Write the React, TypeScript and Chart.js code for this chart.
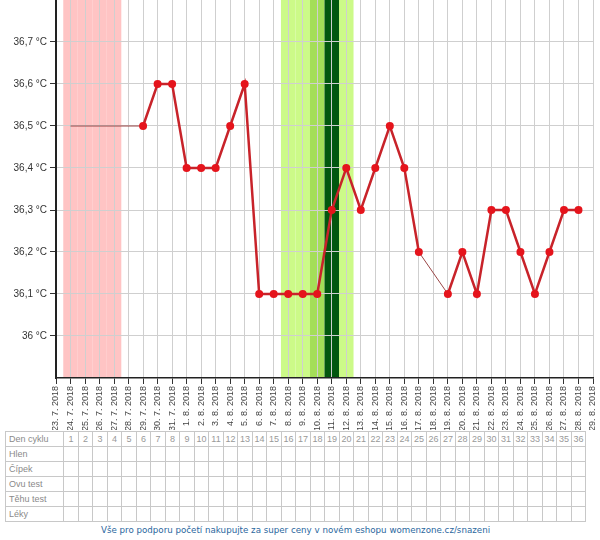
import React, { useEffect, useRef } from "react";
import { Chart, registerables } from "chart.js";

Chart.register(...registerables);

const dayLabels = [
  "23. 7. 2018", "24. 7. 2018", "25. 7. 2018", "26. 7. 2018", "27. 7. 2018",
  "28. 7. 2018", "29. 7. 2018", "30. 7. 2018", "31. 7. 2018", "1. 8. 2018",
  "2. 8. 2018", "3. 8. 2018", "4. 8. 2018", "5. 8. 2018", "6. 8. 2018",
  "7. 8. 2018", "8. 8. 2018", "9. 8. 2018", "10. 8. 2018", "11. 8. 2018",
  "12. 8. 2018", "13. 8. 2018", "14. 8. 2018", "15. 8. 2018", "16. 8. 2018",
  "17. 8. 2018", "18. 8. 2018", "19. 8. 2018", "20. 8. 2018", "21. 8. 2018",
  "22. 8. 2018", "23. 8. 2018", "24. 8. 2018", "25. 8. 2018", "26. 8. 2018",
  "27. 8. 2018", "28. 8. 2018", "29. 8. 2018",
];

const temperatures: (number | null)[] = [
  null, null, null, null, null, null, 36.5, 36.6, 36.6, 36.4,
  36.4, 36.4, 36.5, 36.6, 36.1, 36.1, 36.1, 36.1, 36.1, 36.3,
  36.4, 36.3, 36.4, 36.5, 36.4, 36.2, null, 36.1, 36.2, 36.1,
  36.3, 36.3, 36.2, 36.1, 36.2, 36.3, 36.3, null,
];

const yTickValues = [36.0, 36.1, 36.2, 36.3, 36.4, 36.5, 36.6, 36.7];

const cycleStartIndex = 1;
const menstruationDays = [1, 2, 3, 4];
const fertileDays = [16, 17, 20];
const highFertileDays = [18];
const ovulationDays = [19];

const cycleDayNumbers = [
  1, 2, 3, 4, 5, 6, 7, 8, 9, 10, 11, 12, 13, 14, 15, 16, 17, 18,
  19, 20, 21, 22, 23, 24, 25, 26, 27, 28, 29, 30, 31, 32, 33, 34, 35, 36,
];
const tableRowLabels = ["Hlen", "Čípek", "Ovu test", "Těhu test", "Léky"];
const footerText =
  "Vše pro podporu početí nakupujte za super ceny v novém eshopu womenzone.cz/snazeni";

const bandsPlugin = {
  id: "cycleBands",
  beforeDraw(chart: any) {
    const { ctx, chartArea, scales } = chart;
    const x = scales.x;
    const groups: [number[], string][] = [
      [menstruationDays, "#ffc4c4"],
      [fertileDays, "#ccfa88"],
      [highFertileDays, "#a4de58"],
      [ovulationDays, "#03570f"],
    ];
    ctx.save();
    for (const [days, color] of groups) {
      ctx.fillStyle = color;
      for (const d of days) {
        const l = x.getPixelForValue(d - 0.5);
        const r = x.getPixelForValue(d + 0.5);
        ctx.fillRect(l, chartArea.top, r - l, chartArea.bottom - chartArea.top);
      }
    }
    ctx.restore();
  },
};

function buildMainPoints() {
  return temperatures.map((t, i) => ({ x: i, y: t }));
}

function buildConnectorPoints() {
  const pts: { x: number; y: number | null }[] = [];
  const known = temperatures
    .map((t, i) => ({ x: i, y: t }))
    .filter((p) => p.y !== null) as { x: number; y: number }[];
  if (known.length) {
    pts.push({ x: cycleStartIndex, y: known[0].y });
    pts.push({ x: known[0].x, y: known[0].y });
    pts.push({ x: known[0].x + 0.5, y: null });
  }
  for (let k = 1; k < known.length; k++) {
    if (known[k].x - known[k - 1].x > 1) {
      pts.push({ x: known[k - 1].x, y: known[k - 1].y });
      pts.push({ x: known[k].x, y: known[k].y });
      pts.push({ x: known[k].x + 0.5, y: null });
    }
  }
  return pts;
}

function formatTemp(v: number) {
  const s = (Math.round(v * 10) / 10).toFixed(1);
  const t = s.endsWith(".0") ? s.slice(0, -2) : s.replace(".", ",");
  return t + " °C";
}

function TempChart() {
  const ref = useRef<HTMLCanvasElement | null>(null);
  useEffect(() => {
    if (!ref.current) return;
    const chart = new Chart(ref.current, {
      type: "line",
      data: {
        datasets: [
          {
            data: buildConnectorPoints() as any,
            borderColor: "#9a4646",
            borderWidth: 1,
            pointRadius: 0,
            spanGaps: false,
            order: 2,
          },
          {
            data: buildMainPoints() as any,
            borderColor: "#c8232a",
            borderWidth: 2.5,
            pointRadius: 4,
            pointBackgroundColor: "#e5141c",
            pointBorderColor: "#e5141c",
            pointBorderWidth: 0,
            spanGaps: false,
            order: 1,
          },
        ],
      },
      options: {
        animation: false,
        responsive: false,
        events: [],
        layout: { autoPadding: false, padding: { left: 0, right: 7, top: 0, bottom: 0 } },
        plugins: {
          legend: { display: false },
          tooltip: { enabled: false },
        },
        scales: {
          x: {
            type: "linear",
            min: 0,
            max: dayLabels.length - 1,
            afterBuildTicks(scale: any) {
              scale.ticks = dayLabels.map((_, i) => ({ value: i }));
            },
            afterFit(scale: any) {
              scale.height = 430 - 378;
              scale.paddingLeft = 0;
              scale.paddingRight = 0;
            },
            ticks: {
              autoSkip: false,
              minRotation: 90,
              maxRotation: 90,
              padding: 2,
              color: "#444",
              font: { family: "Liberation Sans, Arial, sans-serif", size: 9 },
              callback: (v: any) => dayLabels[Math.round(Number(v))] ?? "",
            },
            grid: {
              color: "#cfcfcf",
              tickColor: "#333",
              tickLength: 6,
              lineWidth: 1,
            },
            border: { color: "#222", width: 1.5 },
          },
          y: {
            type: "linear",
            min: 35.9,
            max: 36.8,
            afterBuildTicks(scale: any) {
              scale.ticks = yTickValues.map((v) => ({ value: v }));
            },
            afterFit(scale: any) {
              scale.width = 56;
              scale.paddingTop = 0;
              scale.paddingBottom = 0;
            },
            ticks: {
              padding: 3,
              color: "#333",
              font: { family: "Liberation Sans, Arial, sans-serif", size: 10 },
              callback: (v: any) => formatTemp(Number(v)),
            },
            grid: {
              color: "#cfcfcf",
              tickColor: "#333",
              tickLength: 6,
              lineWidth: 1,
            },
            border: { color: "#222", width: 2 },
          },
        },
      },
      plugins: [bandsPlugin],
    });
    return () => chart.destroy();
  }, []);
  return <canvas ref={ref} width={600} height={430} style={{ display: "block" }} />;
}

const colW = 14.514;
const firstColW = 58.26;

function CycleTable() {
  const cell: React.CSSProperties = {
    border: "1px solid #c8c8c8",
    padding: 0,
    height: 14,
    fontSize: 9,
    color: "#999",
    textAlign: "center",
    overflow: "hidden",
    whiteSpace: "nowrap",
    lineHeight: "14px",
  };
  const labelCell: React.CSSProperties = {
    ...cell,
    textAlign: "left",
    paddingLeft: 3,
    color: "#8a8a8a",
  };
  return (
    <table
      style={{
        position: "absolute",
        left: 5,
        top: 431,
        borderCollapse: "collapse",
        tableLayout: "fixed",
        width: firstColW + colW * cycleDayNumbers.length,
        fontFamily: "Liberation Sans, Arial, sans-serif",
      }}
    >
      <colgroup>
        <col style={{ width: firstColW }} />
        {cycleDayNumbers.map((d) => (
          <col key={d} style={{ width: colW }} />
        ))}
      </colgroup>
      <tbody>
        <tr>
          <td style={labelCell}>Den cyklu</td>
          {cycleDayNumbers.map((d) => (
            <td key={d} style={cell}>
              {d}
            </td>
          ))}
        </tr>
        {tableRowLabels.map((r) => (
          <tr key={r}>
            <td style={labelCell}>{r}</td>
            {cycleDayNumbers.map((d) => (
              <td key={d} style={cell}></td>
            ))}
          </tr>
        ))}
      </tbody>
    </table>
  );
}

export default function App() {
  return (
    <div
      style={{
        position: "absolute",
        left: 0,
        top: 0,
        width: 600,
        height: 540,
        background: "#fff",
        overflow: "hidden",
      }}
    >
      <TempChart />
      <CycleTable />
      <div
        style={{
          position: "absolute",
          left: 5,
          width: 581,
          top: 523,
          textAlign: "center",
          fontFamily: "DejaVu Sans, Verdana, sans-serif",
          fontSize: 8.7,
          color: "#2a679e",
          lineHeight: "14px",
          whiteSpace: "nowrap",
        }}
      >
        {footerText}
      </div>
    </div>
  );
}
